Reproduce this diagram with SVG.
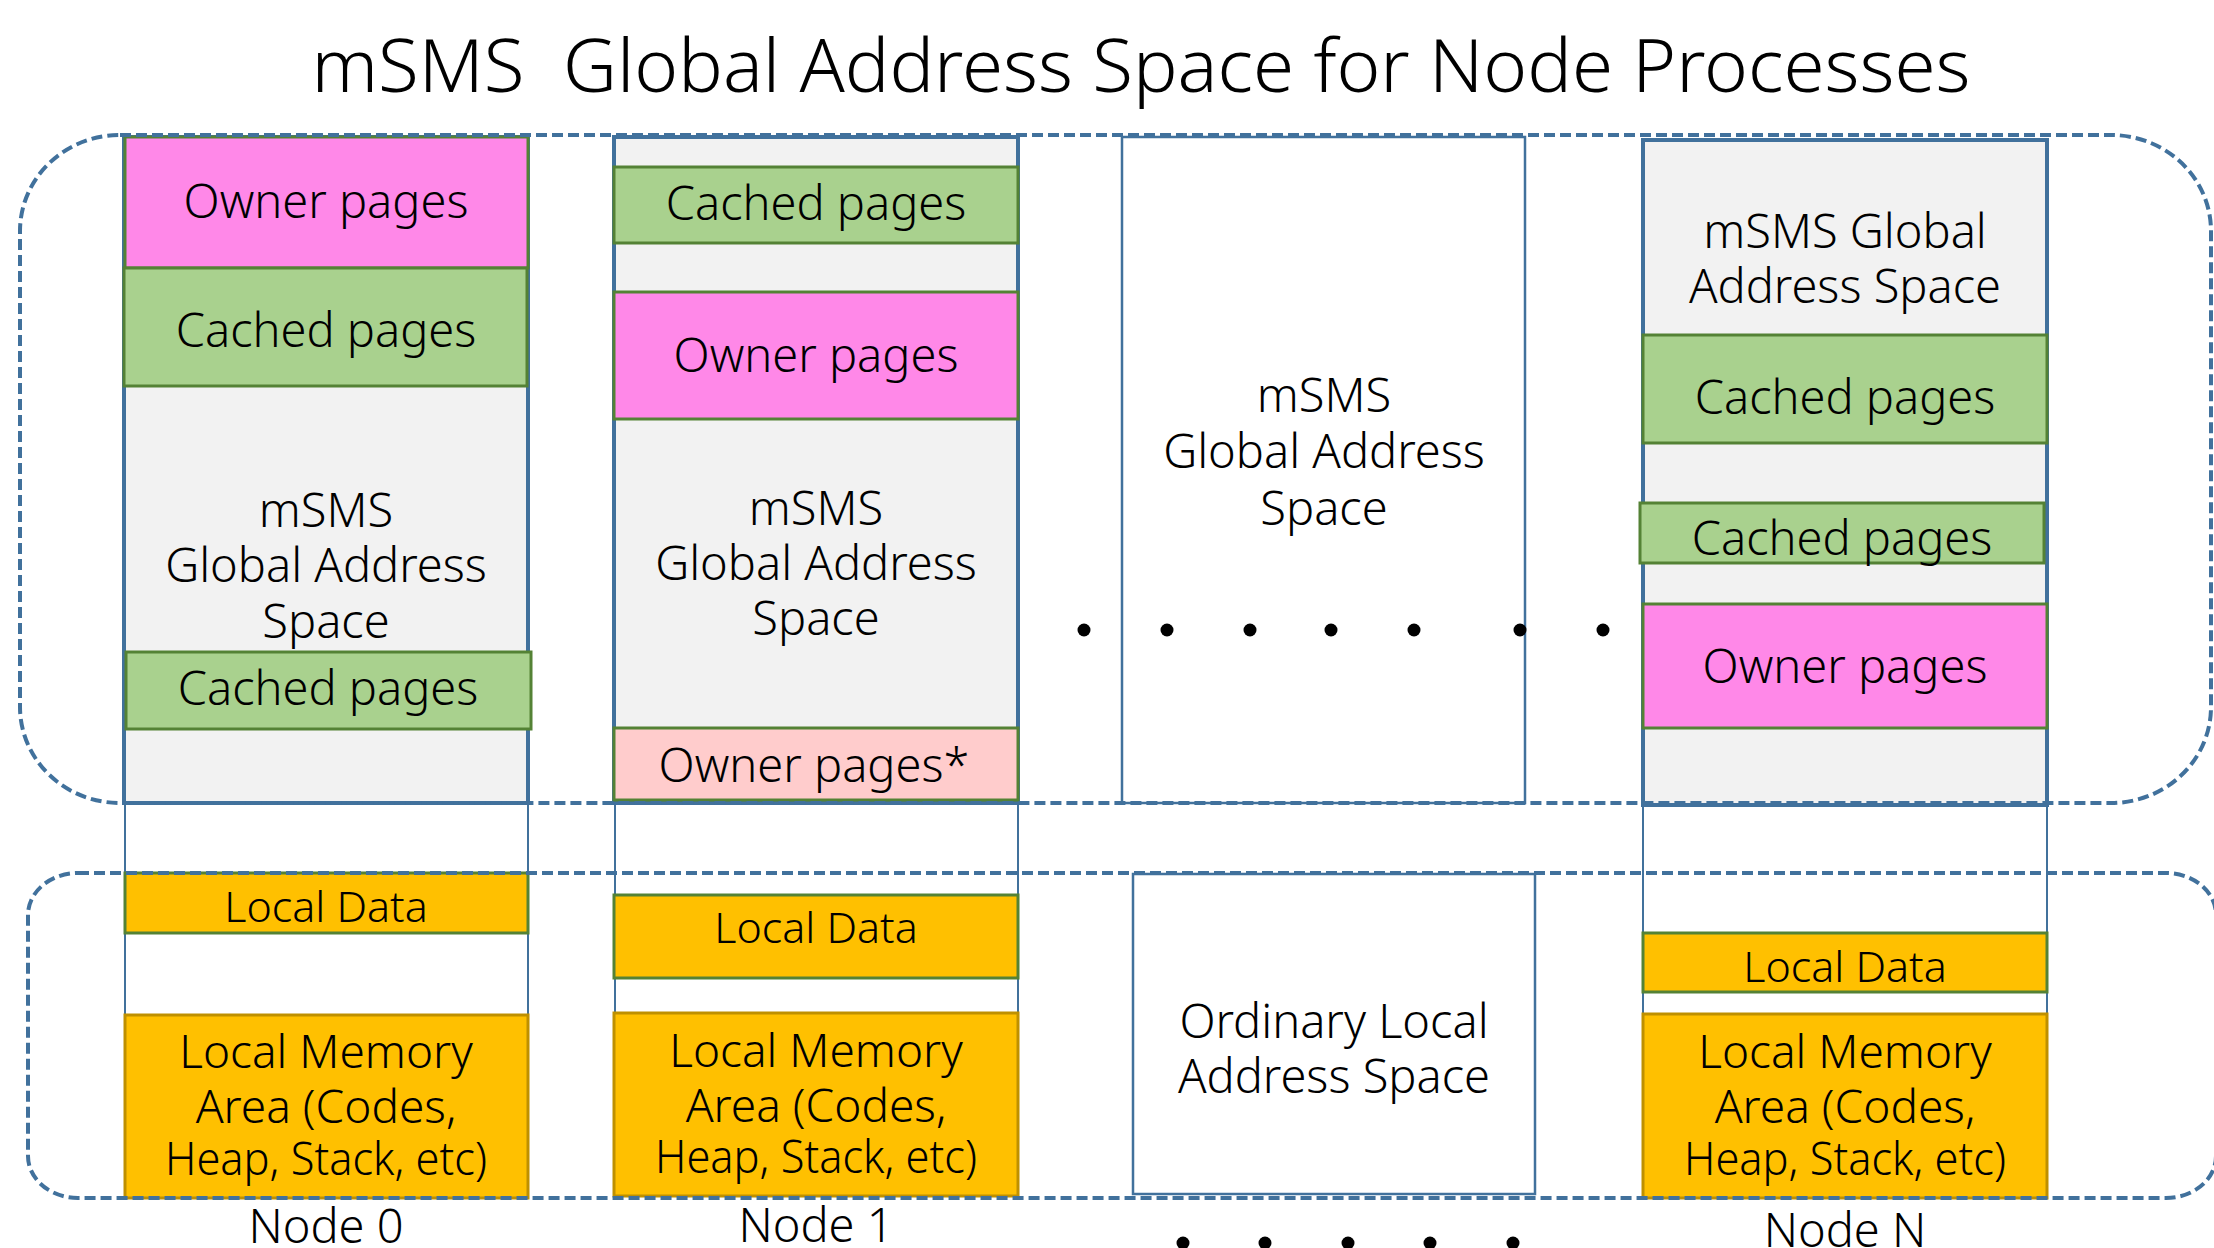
<svg xmlns="http://www.w3.org/2000/svg" width="2214" height="1248" viewBox="0 0 2214 1248">
<style>
text{font-family:"Noto Sans","Liberation Sans",sans-serif;font-weight:300;fill:#000;text-anchor:middle}
.t{font-size:73px;white-space:pre}
.l{font-size:47px}
.m{font-size:46px}
.s{font-size:43px}
.gray{fill:#F2F2F2;stroke:#41719C;stroke-width:4}
.col{fill:#FFFFFF;stroke:#41719C;stroke-width:2}
.pink{fill:#FF88E8;stroke:#548235;stroke-width:3}
.pinkl{fill:#FFCCCC;stroke:#548235;stroke-width:3}
.green{fill:#A9D18E;stroke:#548235;stroke-width:3}
.ld{fill:#FFC000;stroke:#548235;stroke-width:3}
.lm{fill:#FFC000;stroke:#BF9000;stroke-width:3}
.plain{fill:#FFFFFF;stroke:#41719C;stroke-width:2.5}
.dash{fill:none;stroke:#41719C;stroke-width:4;stroke-dasharray:11 5}
.dot{fill:#000}
</style>
<rect width="2214" height="1248" fill="#FFFFFF"/>
<text class="t" x="1141" y="92" xml:space="preserve" textLength="1659" lengthAdjust="spacingAndGlyphs">mSMS  Global Address Space for Node Processes</text>

<g id="node0">
  <rect class="col" x="125" y="803" width="403" height="212"/>
  <rect class="gray" x="124" y="137" width="404" height="666"/>
  <rect class="pink" x="125" y="137" width="403" height="131"/>
  <text class="l" x="326" y="218">Owner pages</text>
  <rect class="green" x="124" y="268" width="403" height="118"/>
  <text class="l" x="326" y="347">Cached pages</text>
  <text class="l" x="326" y="527">mSMS</text>
  <text class="l" x="326" y="582">Global Address</text>
  <text class="l" x="326" y="638">Space</text>
  <rect class="green" x="126" y="652" width="405" height="77"/>
  <text class="l" x="328" y="705">Cached pages</text>
  <rect class="ld" x="125" y="873" width="403" height="60"/>
  <text class="s" x="326" y="922">Local Data</text>
  <rect class="lm" x="125" y="1015" width="403" height="183"/>
  <text class="m" x="326" y="1068">Local Memory</text>
  <text class="m" x="326" y="1123">Area (Codes,</text>
  <text class="m" x="326" y="1175" textLength="322" lengthAdjust="spacingAndGlyphs">Heap, Stack, etc)</text>
  <text class="l" x="326" y="1243">Node 0</text>
</g>

<g id="node1">
  <rect class="col" x="615" y="803" width="403" height="212"/>
  <rect class="gray" x="614" y="137" width="404" height="666"/>
  <rect class="green" x="614" y="167" width="404" height="76"/>
  <text class="l" x="816" y="220">Cached pages</text>
  <rect class="pink" x="614" y="292" width="404" height="127"/>
  <text class="l" x="816" y="372">Owner pages</text>
  <text class="l" x="816" y="525">mSMS</text>
  <text class="l" x="816" y="580">Global Address</text>
  <text class="l" x="816" y="635">Space</text>
  <rect class="pinkl" x="614" y="728" width="404" height="72"/>
  <text class="l" x="814" y="782">Owner pages*</text>
  <rect class="ld" x="614" y="895" width="404" height="83"/>
  <text class="s" x="816" y="943">Local Data</text>
  <rect class="lm" x="614" y="1013" width="404" height="183"/>
  <text class="m" x="816" y="1067">Local Memory</text>
  <text class="m" x="816" y="1122">Area (Codes,</text>
  <text class="m" x="816" y="1173" textLength="322" lengthAdjust="spacingAndGlyphs">Heap, Stack, etc)</text>
  <text class="l" x="816" y="1242">Node 1</text>
</g>

<g id="nodeMid">
  <rect class="plain" x="1122" y="137" width="403" height="666"/>
  <text class="l" x="1324" y="412">mSMS</text>
  <text class="l" x="1324" y="468">Global Address</text>
  <text class="l" x="1324" y="525">Space</text>
  <rect class="plain" x="1133" y="874" width="402" height="320"/>
  <text class="l" x="1334" y="1038">Ordinary Local</text>
  <text class="l" x="1334" y="1093">Address Space</text>
</g>

<g id="nodeN">
  <rect class="col" x="1643" y="805" width="404" height="210"/>
  <rect class="gray" x="1643" y="140" width="404" height="665"/>
  <text class="l" x="1845" y="248">mSMS Global</text>
  <text class="l" x="1845" y="303">Address Space</text>
  <rect class="green" x="1643" y="335" width="404" height="108"/>
  <text class="l" x="1845" y="414">Cached pages</text>
  <rect class="green" x="1640" y="503" width="404" height="60"/>
  <text class="l" x="1842" y="555">Cached pages</text>
  <rect class="pink" x="1643" y="604" width="404" height="124"/>
  <text class="l" x="1845" y="683">Owner pages</text>
  <rect class="ld" x="1643" y="933" width="404" height="59"/>
  <text class="s" x="1845" y="982">Local Data</text>
  <rect class="lm" x="1643" y="1014" width="404" height="184"/>
  <text class="m" x="1845" y="1068">Local Memory</text>
  <text class="m" x="1845" y="1123">Area (Codes,</text>
  <text class="m" x="1845" y="1175" textLength="322" lengthAdjust="spacingAndGlyphs">Heap, Stack, etc)</text>
  <text class="l" x="1845" y="1247">Node N</text>
</g>

<g id="dots">
  <circle class="dot" cx="1084" cy="630" r="6.5"/>
  <circle class="dot" cx="1167" cy="630" r="6.5"/>
  <circle class="dot" cx="1250" cy="630" r="6.5"/>
  <circle class="dot" cx="1331" cy="630" r="6.5"/>
  <circle class="dot" cx="1414" cy="630" r="6.5"/>
  <circle class="dot" cx="1520" cy="630" r="6.5"/>
  <circle class="dot" cx="1603" cy="630" r="6.5"/>
  <circle class="dot" cx="1183" cy="1243" r="6.5"/>
  <circle class="dot" cx="1265" cy="1243" r="6.5"/>
  <circle class="dot" cx="1348" cy="1243" r="6.5"/>
  <circle class="dot" cx="1430" cy="1243" r="6.5"/>
  <circle class="dot" cx="1513" cy="1243" r="6.5"/>
</g>

<g id="regions">
  <rect class="dash" x="20" y="135" width="2191" height="668" rx="100" ry="96"/>
  <rect class="dash" x="28" y="873" width="2188" height="325" rx="50" ry="42"/>
</g>
</svg>
